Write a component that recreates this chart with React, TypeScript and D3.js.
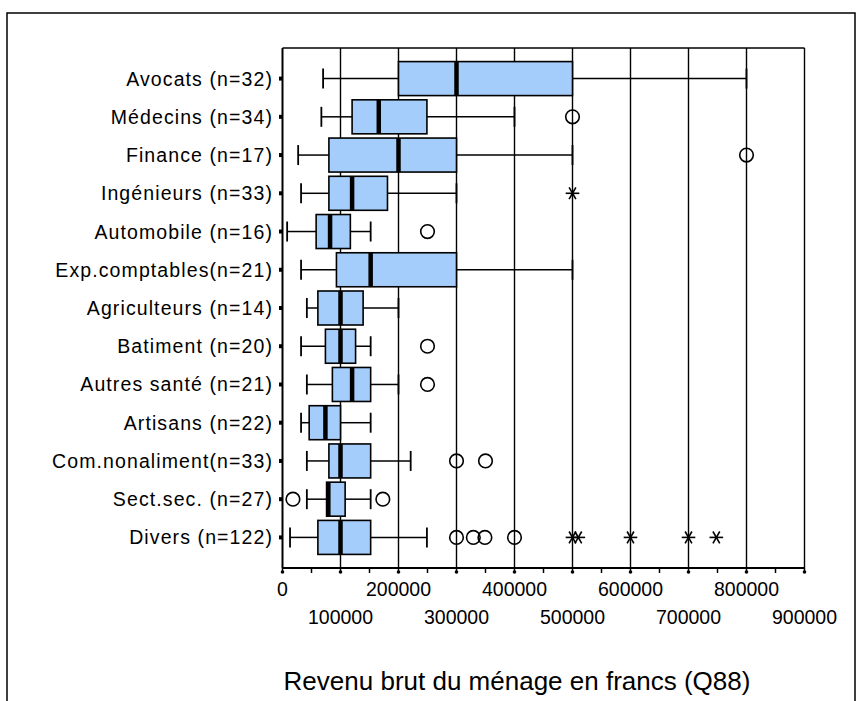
import React from "react";
import * as d3 from "d3";

const categories = [
  "Avocats (n=32)",
  "Médecins (n=34)",
  "Finance (n=17)",
  "Ingénieurs (n=33)",
  "Automobile (n=16)",
  "Exp.comptables(n=21)",
  "Agriculteurs (n=14)",
  "Batiment (n=20)",
  "Autres santé (n=21)",
  "Artisans (n=22)",
  "Com.nonaliment(n=33)",
  "Sect.sec. (n=27)",
  "Divers (n=122)",
];
const whiskerLow = [70000, 67000, 27000, 32000, 8000, 32000, 42000, 32000, 42000, 32000, 42000, 42000, 13000];
const q1 = [200000, 120000, 80000, 80000, 58000, 93000, 61000, 74000, 86000, 46000, 80000, 76000, 61000];
const medians = [300000, 166000, 200000, 120000, 82000, 152000, 100000, 100000, 120000, 74000, 100000, 79000, 100000];
const q3 = [500000, 249000, 300000, 181000, 117000, 300000, 139000, 126000, 152000, 100000, 152000, 108000, 152000];
const whiskerHigh = [800000, 400000, 500000, 300000, 152000, 500000, 200000, 152000, 200000, 152000, 221000, 152000, 249000];

// outliers (circles): [category index, value]
const outliers: [number, number][] = [
  [1, 500000],
  [2, 800000],
  [4, 250000],
  [7, 250000],
  [8, 250000],
  [10, 300000],
  [10, 350000],
  [11, 18000],
  [11, 173000],
  [12, 300000],
  [12, 329000],
  [12, 349000],
  [12, 400000],
];
// extremes (asterisks)
const extremes: [number, number][] = [
  [3, 500000],
  [12, 500000],
  [12, 510000],
  [12, 600000],
  [12, 700000],
  [12, 748000],
];

const tickValues = [0, 100000, 200000, 300000, 400000, 500000, 600000, 700000, 800000, 900000];
const minorTicks = [50000, 150000, 250000, 350000, 450000, 550000, 650000, 750000, 850000];
const axisTitle = "Revenu brut du ménage en francs (Q88)";

const W = 863;
const H = 701;
const left = 282.5;
const right = 804.5;
const top = 48;
const bottom = 568;
const FONT = "'Liberation Sans', Arial, sans-serif";

export default function App() {
  const x = d3.scaleLinear().domain([0, 900000]).range([left, right]);
  const y = d3.scalePoint<number>().domain(d3.range(categories.length)).range([top, bottom]).padding(0.8);
  const boxH = 34;
  const capH = 20;

  const star = (cx: number, cy: number, key: string) => {
    const r = 6.8;
    const dx = r * Math.cos(Math.PI / 3);
    const dy = r * Math.sin(Math.PI / 3);
    return (
      <g key={key} stroke="#000" strokeWidth={1.6}>
        <line x1={cx - r} y1={cy} x2={cx + r} y2={cy} />
        <line x1={cx - dx} y1={cy - dy} x2={cx + dx} y2={cy + dy} />
        <line x1={cx - dx} y1={cy + dy} x2={cx + dx} y2={cy - dy} />
      </g>
    );
  };

  return (
    <svg width={W} height={H} style={{ position: "absolute", left: 0, top: 0, background: "#fff" }}>
      <rect x={0} y={0} width={W} height={H} fill="#fff" />
      {/* outer frame */}
      <path d={`M7,${H + 5} L7,13 L855,13 L855,${H + 5}`} fill="none" stroke="#000" strokeWidth={1.5} />

      {/* grid lines */}
      {tickValues.slice(1).map((t) => (
        <line key={"g" + t} x1={x(t)} x2={x(t)} y1={top} y2={bottom} stroke="#000" strokeWidth={1.4} />
      ))}
      {/* plot frame top */}
      <line x1={left} x2={right} y1={top} y2={top} stroke="#000" strokeWidth={1.6} />

      {/* boxes */}
      {categories.map((c, i) => {
        const cy = y(i)!;
        return (
          <g key={"b" + i}>
            <line x1={x(whiskerLow[i])} x2={x(q1[i])} y1={cy} y2={cy} stroke="#000" strokeWidth={1.5} />
            <line x1={x(q3[i])} x2={x(whiskerHigh[i])} y1={cy} y2={cy} stroke="#000" strokeWidth={1.5} />
            <line x1={x(whiskerLow[i])} x2={x(whiskerLow[i])} y1={cy - capH / 2} y2={cy + capH / 2} stroke="#000" strokeWidth={1.8} />
            <line x1={x(whiskerHigh[i])} x2={x(whiskerHigh[i])} y1={cy - capH / 2} y2={cy + capH / 2} stroke="#000" strokeWidth={1.8} />
            <rect
              x={x(q1[i])}
              y={cy - boxH / 2}
              width={x(q3[i]) - x(q1[i])}
              height={boxH}
              fill="#a4cdfb"
              stroke="#000"
              strokeWidth={1.6}
            />
            <line x1={x(medians[i])} x2={x(medians[i])} y1={cy - boxH / 2} y2={cy + boxH / 2} stroke="#000" strokeWidth={4.5} />
          </g>
        );
      })}

      {/* outliers */}
      {outliers.map(([i, v], k) => (
        <circle key={"o" + k} cx={x(v)} cy={y(i)!} r={6.8} fill="none" stroke="#000" strokeWidth={1.6} />
      ))}
      {extremes.map(([i, v], k) => star(x(v), y(i)!, "e" + k))}

      {/* axes */}
      <line x1={left} x2={left} y1={top} y2={bottom} stroke="#000" strokeWidth={2} />
      <line x1={left} x2={right} y1={bottom} y2={bottom} stroke="#000" strokeWidth={2} />

      {/* y ticks and labels */}
      {categories.map((c, i) => (
        <g key={"yl" + i}>
          <rect x={279} y={y(i)! - 2} width={3.5} height={4} fill="#000" />
          <text
            x={273}
            y={y(i)!}
            dy="0.36em"
            textAnchor="end"
            fontFamily={FONT}
            fontSize={19.5}
            letterSpacing={1.1}
            fill="#000"
          >
            {c}
          </text>
        </g>
      ))}

      {/* x ticks */}
      {tickValues.map((t) => (
        <g key={"xt" + t}>
          <line x1={x(t)} x2={x(t)} y1={bottom} y2={bottom + 4} stroke="#000" strokeWidth={1.5} />
          <circle cx={x(t)} cy={bottom + 4} r={1.8} fill="#000" />
        </g>
      ))}
      {minorTicks.map((t) => (
        <line key={"mt" + t} x1={x(t)} x2={x(t)} y1={bottom} y2={bottom + 5} stroke="#000" strokeWidth={1.5} />
      ))}
      {tickValues.map((t, k) => (
        <text
          key={"xl" + t}
          x={x(t)}
          y={k % 2 === 0 ? 596 : 624}
          textAnchor="middle"
          fontFamily={FONT}
          fontSize={19.5}
          fill="#000"
        >
          {d3.format("d")(t)}
        </text>
      ))}

      <text x={517} y={690} textAnchor="middle" fontFamily={FONT} fontSize={26} fill="#000">
        {axisTitle}
      </text>
    </svg>
  );
}
